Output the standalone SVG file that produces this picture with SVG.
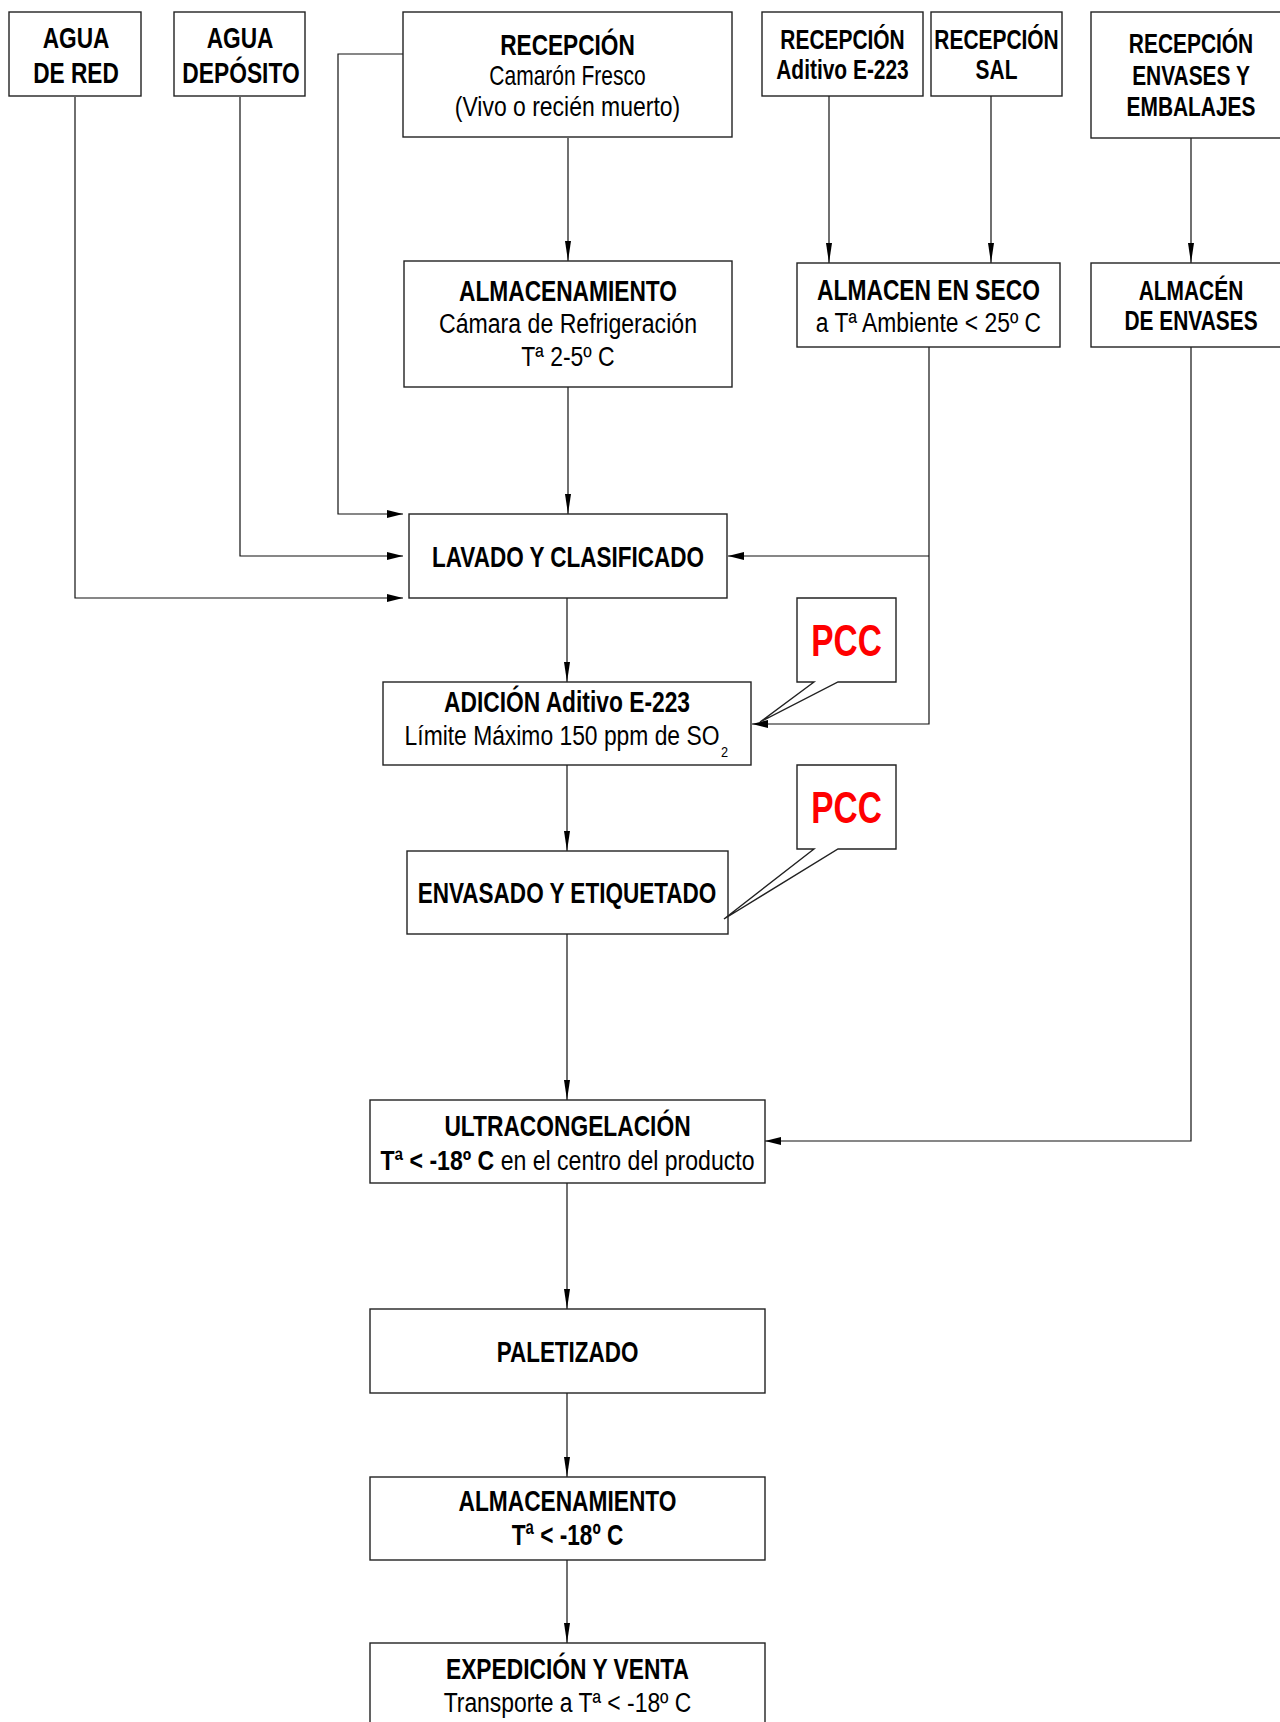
<svg xmlns="http://www.w3.org/2000/svg" width="1280" height="1722" viewBox="0 0 1280 1722">
  <style>
    .box { fill: #fff; stroke: #222; stroke-width: 1.4; }
    .link { fill: none; stroke: #111; stroke-width: 1.2; }
    text { font-family: "Liberation Sans", Arial, sans-serif; text-anchor: middle; fill: #000; }
    .b { font-weight: bold; font-size: 30px; }
    .s { font-weight: bold; font-size: 28px; }
    .r { font-weight: normal; font-size: 28px; }
    .sub { font-weight: normal; font-size: 15px; text-anchor: start; }
    .pcc { font-weight: bold; font-size: 44px; fill: #f00; }
  </style>
  <defs>
    <marker id="ah" markerUnits="userSpaceOnUse" markerWidth="17" markerHeight="9" refX="16" refY="4" orient="auto">
      <path d="M0,0 L16,4 L0,8 Z" fill="#000"/>
    </marker>
    <marker id="av" markerUnits="userSpaceOnUse" markerWidth="21" markerHeight="7" refX="20" refY="3" orient="auto">
      <path d="M0,0 L20,3 L0,6 Z" fill="#000"/>
    </marker>
  </defs>
  <rect width="1280" height="1722" fill="#fff"/>

  <!-- connectors -->
  <g id="connectors">
    <path class="link" d="M75,97 V598 H403" marker-end="url(#ah)"/>
    <path class="link" d="M240,97 V556 H403" marker-end="url(#ah)"/>
    <path class="link" d="M403,54 H338 V514 H403" marker-end="url(#ah)"/>
    <path class="link" d="M568,138 V261" marker-end="url(#av)"/>
    <path class="link" d="M568,387 V514" marker-end="url(#av)"/>
    <path class="link" d="M829,96 V263" marker-end="url(#av)"/>
    <path class="link" d="M991,96 V263" marker-end="url(#av)"/>
    <path class="link" d="M1191,138 V263" marker-end="url(#av)"/>
    <path class="link" d="M929,347 V724 H752" marker-end="url(#ah)"/>
    <path class="link" d="M929,556 H728" marker-end="url(#ah)"/>
    <path class="link" d="M567,598 V682" marker-end="url(#av)"/>
    <path class="link" d="M567,765 V851" marker-end="url(#av)"/>
    <path class="link" d="M567,934 V1100" marker-end="url(#av)"/>
    <path class="link" d="M1191,347 V1141 H765" marker-end="url(#ah)"/>
    <path class="link" d="M567,1183 V1309" marker-end="url(#av)"/>
    <path class="link" d="M567,1393 V1477" marker-end="url(#av)"/>
    <path class="link" d="M567,1560 V1643" marker-end="url(#av)"/>
  </g>

  <g id="agua-red">
    <rect class="box" x="9" y="12" width="132" height="84"/>
    <text class="b" transform="translate(76,48) scale(.755,1)">AGUA</text>
    <text class="b" transform="translate(76,83) scale(.755,1)">DE RED</text>
  </g>

  <g id="agua-deposito">
    <rect class="box" x="174" y="12" width="131" height="84"/>
    <text class="b" transform="translate(240,48) scale(.755,1)">AGUA</text>
    <text class="b" transform="translate(241,83) scale(.76,1)">DEPÓSITO</text>
  </g>

  <g id="recepcion-camaron">
    <rect class="box" x="403" y="12" width="329" height="125"/>
    <text class="b" transform="translate(567.5,55) scale(.755,1)">RECEPCIÓN</text>
    <text class="r" transform="translate(567.5,85) scale(.75,1)">Camarón Fresco</text>
    <text class="r" transform="translate(567.5,116) scale(.82,1)">(Vivo o recién muerto)</text>
  </g>

  <g id="recepcion-aditivo">
    <rect class="box" x="762" y="12" width="161" height="84"/>
    <text class="s" transform="translate(842.5,48.5) scale(.747,1)">RECEPCIÓN</text>
    <text class="s" transform="translate(842.5,79) scale(.747,1)">Aditivo E-223</text>
  </g>

  <g id="recepcion-sal">
    <rect class="box" x="931" y="12" width="131" height="84"/>
    <text class="s" transform="translate(996.5,48.5) scale(.747,1)">RECEPCIÓN</text>
    <text class="s" transform="translate(996.5,79) scale(.747,1)">SAL</text>
  </g>

  <g id="recepcion-envases">
    <rect class="box" x="1091" y="12" width="200" height="126"/>
    <text class="s" transform="translate(1191,53) scale(.747,1)">RECEPCIÓN</text>
    <text class="s" transform="translate(1191,85) scale(.747,1)">ENVASES Y</text>
    <text class="s" transform="translate(1191,116) scale(.747,1)">EMBALAJES</text>
  </g>

  <g id="almacenamiento-refrigeracion">
    <rect class="box" x="404" y="261" width="328" height="126"/>
    <text class="b" transform="translate(568,301) scale(.758,1)">ALMACENAMIENTO</text>
    <text class="r" transform="translate(568,333) scale(.825,1)">Cámara de Refrigeración</text>
    <text class="r" transform="translate(568,366) scale(.82,1)">Tª 2-5º C</text>
  </g>

  <g id="almacen-seco">
    <rect class="box" x="797" y="263" width="263" height="84"/>
    <text class="b" transform="translate(928.5,300) scale(.76,1)">ALMACEN EN SECO</text>
    <text class="r" transform="translate(928.5,332) scale(.816,1)">a Tª Ambiente &lt; 25º C</text>
  </g>

  <g id="almacen-envases">
    <rect class="box" x="1091" y="263" width="200" height="84"/>
    <text class="s" transform="translate(1191,300) scale(.747,1)">ALMACÉN</text>
    <text class="s" transform="translate(1191,330) scale(.747,1)">DE ENVASES</text>
  </g>

  <g id="lavado">
    <rect class="box" x="409" y="514" width="318" height="84"/>
    <text class="b" transform="translate(568,567) scale(.75,1)">LAVADO Y CLASIFICADO</text>
  </g>

  <g id="adicion">
    <rect class="box" x="383" y="682" width="368" height="83"/>
    <text class="b" transform="translate(567,712) scale(.76,1)">ADICIÓN Aditivo E-223</text>
    <text class="r" transform="translate(562,745) scale(.816,1)">Límite Máximo 150 ppm de SO</text>
    <text class="sub" transform="translate(721,757) scale(.85,1)">2</text>
  </g>

  <g id="envasado">
    <rect class="box" x="407" y="851" width="321" height="83"/>
    <text class="b" transform="translate(567,903) scale(.751,1)">ENVASADO Y ETIQUETADO</text>
  </g>

  <g id="ultracongelacion">
    <rect class="box" x="370" y="1100" width="395" height="83"/>
    <text class="b" transform="translate(567.5,1136) scale(.759,1)">ULTRACONGELACIÓN</text>
    <text class="r" transform="translate(567.5,1170) scale(.824,1)"><tspan font-weight="bold">Tª &lt; -18º C</tspan> en el centro del producto</text>
  </g>

  <g id="paletizado">
    <rect class="box" x="370" y="1309" width="395" height="84"/>
    <text class="b" transform="translate(567.5,1362) scale(.748,1)">PALETIZADO</text>
  </g>

  <g id="almacenamiento-congelado">
    <rect class="box" x="370" y="1477" width="395" height="83"/>
    <text class="b" transform="translate(567.5,1511) scale(.758,1)">ALMACENAMIENTO</text>
    <text class="b" transform="translate(567.5,1545) scale(.755,1)">Tª &lt; -18º C</text>
  </g>

  <g id="expedicion">
    <rect class="box" x="370" y="1643" width="395" height="100"/>
    <text class="b" transform="translate(567.5,1679) scale(.76,1)">EXPEDICIÓN Y VENTA</text>
    <text class="r" transform="translate(567.5,1712) scale(.818,1)">Transporte a Tª &lt; -18º C</text>
  </g>

  <!-- critical control point callouts -->
  <g id="pcc-adicion">
    <path class="box" d="M797,598 H896 V682 H838 L760,722 L814,682 H797 Z"/>
    <text class="pcc" transform="translate(846.5,656) scale(.76,1)">PCC</text>
  </g>

  <g id="pcc-envasado">
    <path class="box" d="M797,765 H896 V849 H838 L724,919 L814,849 H797 Z"/>
    <text class="pcc" transform="translate(846.5,823) scale(.76,1)">PCC</text>
  </g>
</svg>
